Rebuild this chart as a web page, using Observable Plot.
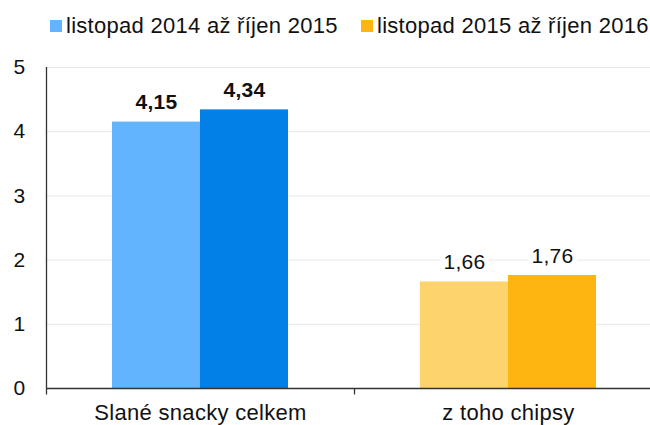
<!DOCTYPE html>
<html><head><meta charset="utf-8">
<script src="https://cdn.jsdelivr.net/npm/d3@7"></script>
<script src="https://cdn.jsdelivr.net/npm/@observablehq/plot@0.6"></script>
<style>
html,body{margin:0;padding:0;background:#fff;}
body{width:650px;height:425px;overflow:hidden;font-family:"Liberation Sans",Arial,sans-serif;}
#legend{height:45px;position:relative;font-size:22px;letter-spacing:0.28px;color:#111;}
.item{position:absolute;top:13px;display:flex;align-items:center;white-space:nowrap;line-height:25px;}
.sw{width:12px;height:12px;margin-right:4px;display:inline-block;}
</style></head>
<body>
<div id="legend"></div>
<div id="chart"></div>
<script>
const categories = ["Slané snacky celkem", "z toho chipsy"];
const series = ["listopad 2014 až říjen 2015", "listopad 2015 až říjen 2016"];
const values2015 = [4.15, 1.66];
const values2016 = [4.34, 1.76];
const yTicks = [0, 1, 2, 3, 4, 5];

const colors = {
  "Slané snacky celkem": ["#63b4ff", "#0380e8"],
  "z toho chipsy": ["#fdd36e", "#ffb511"]
};
const legendColors = ["#63b4ff", "#ffb511"];
const boldCat = "Slané snacky celkem";

const data = [];
categories.forEach((c, i) => {
  data.push({cat: c, s: 0, v: values2015[i], color: colors[c][0]});
  data.push({cat: c, s: 1, v: values2016[i], color: colors[c][1]});
});

// legend
const lg = document.getElementById("legend");
const lx = [50, 361];
series.forEach((s, i) => {
  const d = document.createElement("div");
  d.className = "item";
  d.style.left = lx[i] + "px";
  d.innerHTML = `<span class="sw" style="background:${legendColors[i]}"></span><span>${s}</span>`;
  lg.appendChild(d);
});

const left = 46, right = 662;
const bw = (right - left) / categories.length; // 308
const barW = 88;
const outer = (bw - 2 * barW) / 2;
const fmt = v => v.toFixed(2).replace(".", ",");

const labelMarks = [];
for (const bold of [true, false]) {
  for (const s of [0, 1]) {
    labelMarks.push(Plot.text(data.filter(d => (d.cat === boldCat) === bold && d.s === s), {
      x: "cat", y: "v", text: d => fmt(d.v),
      lineAnchor: "bottom", dy: -13,
      dx: s === 0 ? -barW / 2 : barW / 2,
      fontSize: 21,
      fontWeight: bold ? "bold" : "normal",
      fill: "#111",
      stroke: "white", strokeWidth: 10, paintOrder: "stroke"
    }));
  }
}

const chart = Plot.plot({
  width: 650,
  height: 380,
  marginTop: 22,
  marginBottom: 37,
  marginLeft: left,
  marginRight: 0,
  style: {fontFamily: "'Liberation Sans', Arial, sans-serif", fontSize: "21px", color: "#111", background: "#fff", letterSpacing: "0.3px"},
  x: {domain: categories, range: [left, right], padding: 0, label: null},
  y: {domain: [0, 5], label: null},
  marks: [
    Plot.gridY(yTicks, {stroke: "#e8e8e8", strokeOpacity: 1}),
    Plot.barY(data.filter(d => d.s === 0), {x: "cat", y: "v", fill: "color", insetLeft: outer, insetRight: outer + barW}),
    Plot.barY(data.filter(d => d.s === 1), {x: "cat", y: "v", fill: "color", insetLeft: outer + barW, insetRight: outer}),
    ...labelMarks,
    Plot.ruleY([0], {stroke: "#333", strokeWidth: 1.3}),
    Plot.ruleX([categories[0]], {x: d => d, dx: -bw / 2, y1: -0.1, y2: 5, stroke: "#333", strokeWidth: 1.3}),
    Plot.ruleX(categories.slice(1), {x: d => d, dx: -bw / 2, y1: -0.1, y2: 0, stroke: "#333", strokeWidth: 1.3}),
    Plot.tickY(yTicks, {y: d => d, x: categories[0], insetRight: bw - 7, stroke: "#333", strokeWidth: 1.2}),
    Plot.axisY(yTicks, {tickSize: 0, tickPadding: 21, fontSize: 21, tickFormat: d => String(d)}),
    Plot.axisX({tickSize: 0, tickPadding: 16, fontSize: 22})
  ]
});
document.getElementById("chart").appendChild(chart);
</script>
</body></html>
